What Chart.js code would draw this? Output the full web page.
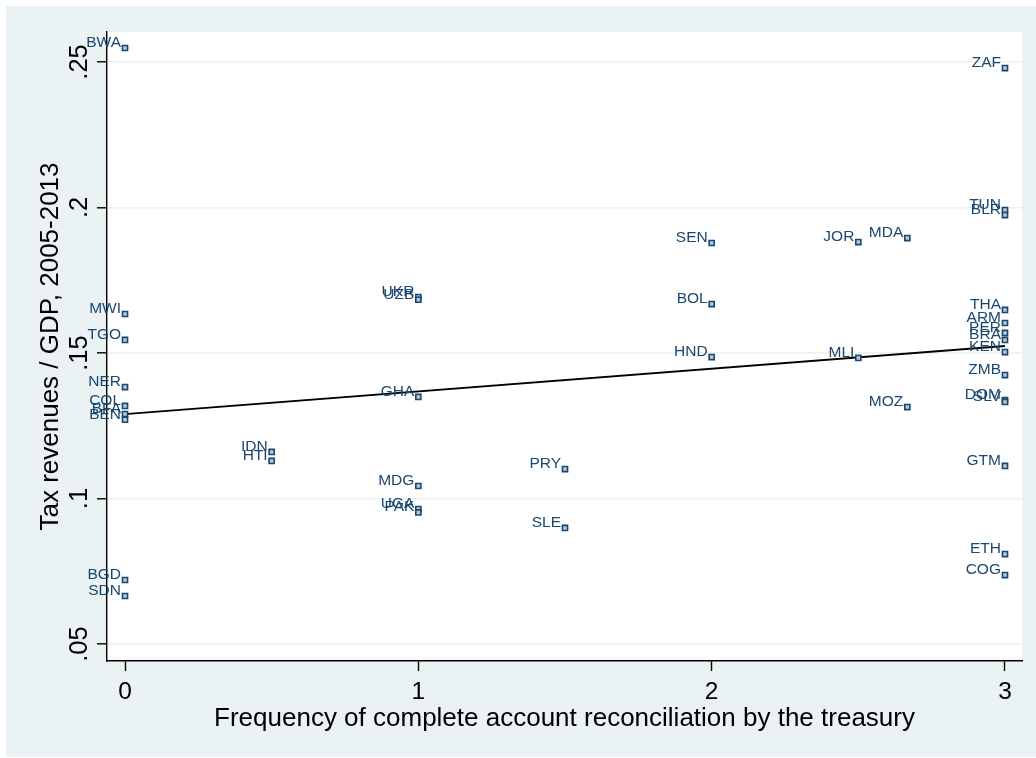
<!DOCTYPE html>
<html>
<head>
<meta charset="utf-8">
<script src="https://cdn.jsdelivr.net/npm/chart.js@4/dist/chart.umd.min.js"></script>
<style>
  html, body { margin: 0; padding: 0; background: #ffffff; }
  #c { display: block; }
</style>
</head>
<body>
<canvas id="c" width="1036" height="758"></canvas>
<script>
// Country codes, PEFA reconciliation frequency score and tax revenue / GDP
const codes = ['BWA','MWI','TGO','NER','COL','BFA','BEN','BGD','SDN',
  'IDN','HTI',
  'UKR','UZB','GHA','MDG','UGA','PAK',
  'PRY','SLE',
  'SEN','BOL','HND',
  'JOR','MLI',
  'MDA','MOZ',
  'ZAF','TUN','BLR','THA','ARM','PER','BRA','KEN','ZMB','DOM','SLV','GTM','ETH','COG'];
const reconFreq = [0,0,0,0,0,0,0,0,0,
  0.5,0.5,
  1,1,1,1,1,1,
  1.5,1.5,
  2,2,2,
  2.5,2.5,
  2.667,2.667,
  3,3,3,3,3,3,3,3,3,3,3,3,3,3];
const taxRatio = [0.2548,0.1634,0.1545,0.1383,0.1318,0.1290,0.1271,0.0720,0.0665,
  0.1160,0.1129,
  0.1692,0.1683,0.1349,0.1043,0.0964,0.0952,
  0.1101,0.0899,
  0.1878,0.1668,0.1486,
  0.1881,0.1483,
  0.1895,0.1314,
  0.2479,0.1991,0.1974,0.1648,0.1603,0.1569,0.1545,0.1503,0.1424,0.1338,0.1332,0.1112,0.0809,0.0737];

// Linear fit line endpoints
const fitX = [0, 3];
const fitY = [0.1290, 0.1524];

// Axis ticks
const xTicks = [0, 1, 2, 3];
const xTickLabels = ['0', '1', '2', '3'];
const yTicks = [0.05, 0.10, 0.15, 0.20, 0.25];
const yTickLabels = ['.05', '.1', '.15', '.2', '.25'];

const xTitle = 'Frequency of complete account reconciliation by the treasury';
const yTitle = 'Tax revenues / GDP, 2005-2013';

const FONT = "'Liberation Sans', Arial, Helvetica, sans-serif";
const NAVY = '#1a476f';
const PANEL = '#eaf2f3';

const stataLook = {
  id: 'stataLook',
  beforeDraw(chart) {
    const { ctx, chartArea: a, width, height } = chart;
    ctx.save();
    ctx.fillStyle = '#ffffff';
    ctx.fillRect(0, 0, width, height);
    ctx.fillStyle = PANEL;
    ctx.fillRect(6, 6, width - 6, height - 7);
    ctx.fillStyle = '#ffffff';
    ctx.fillRect(a.left, a.top, a.right - a.left, a.bottom - a.top);
    ctx.restore();
  },
  afterDatasetsDraw(chart) {
    const { ctx } = chart;
    const xs = chart.scales.x, ys = chart.scales.y;
    ctx.save();
    // marker labels, to the upper left of each marker
    ctx.fillStyle = NAVY;
    ctx.font = `15.5px ${FONT}`;
    ctx.textAlign = 'right';
    ctx.textBaseline = 'alphabetic';
    codes.forEach((c, i) => {
      const px = xs.getPixelForValue(reconFreq[i]);
      const py = ys.getPixelForValue(taxRatio[i]);
      ctx.fillText(c, px - 4, py - 1);
    });
    // x tick labels
    ctx.fillStyle = '#000';
    ctx.font = `24.5px ${FONT}`;
    ctx.textAlign = 'center';
    xTicks.forEach((v, i) => {
      ctx.fillText(xTickLabels[i], xs.getPixelForValue(v), 699);
    });
    // y tick labels, rotated
    ctx.font = `25.5px ${FONT}`;
    yTicks.forEach((v, i) => {
      ctx.save();
      ctx.translate(87, ys.getPixelForValue(v));
      ctx.rotate(-Math.PI / 2);
      ctx.textAlign = 'center';
      ctx.fillText(yTickLabels[i], 0, 0);
      ctx.restore();
    });
    // axis titles
    const a = chart.chartArea;
    ctx.font = `26px ${FONT}`;
    ctx.textAlign = 'center';
    ctx.fillText(xTitle, (a.left + a.right) / 2, 726);
    ctx.save();
    ctx.translate(58, (a.top + a.bottom) / 2);
    ctx.rotate(-Math.PI / 2);
    ctx.fillText(yTitle, 0, 0);
    ctx.restore();
    ctx.restore();
  }
};

new Chart(document.getElementById('c'), {
  type: 'scatter',
  data: {
    datasets: [
      {
        type: 'line',
        data: fitX.map((x, i) => ({ x, y: fitY[i] })),
        borderColor: '#000000',
        borderWidth: 1.9,
        pointRadius: 0,
        fill: false,
        order: 1
      },
      {
        data: codes.map((c, i) => ({ x: reconFreq[i], y: taxRatio[i] })),
        pointStyle: 'rect',
        pointRadius: 3.6,
        borderWidth: 1.6,
        borderColor: NAVY,
        backgroundColor: '#b9c8d6',
        order: 0
      }
    ]
  },
  options: {
    responsive: false,
    animation: false,
    devicePixelRatio: 1,
    layout: { padding: { left: 0, right: 14, top: 32, bottom: 0 } },
    plugins: { legend: { display: false }, tooltip: { enabled: false } },
    scales: {
      x: {
        type: 'linear',
        min: -0.0614,
        max: 3.058,
        afterBuildTicks: s => { s.ticks = xTicks.map(v => ({ value: v })); },
        afterFit: s => { s.height = 97; },
        ticks: { display: false },
        grid: { drawOnChartArea: false, drawTicks: true, tickLength: 10, tickColor: '#000', tickWidth: 1.4 },
        border: { display: true, color: '#000', width: 1.4 }
      },
      y: {
        type: 'linear',
        min: 0.04416,
        max: 0.2603,
        afterBuildTicks: s => { s.ticks = yTicks.map(v => ({ value: v })); },
        afterFit: s => { s.width = 107; },
        ticks: { display: false },
        grid: { color: PANEL, lineWidth: 1.6, drawTicks: true, tickLength: 10, tickColor: '#000', tickWidth: 1.4 },
        border: { display: true, color: '#000', width: 1.4 }
      }
    }
  },
  plugins: [stataLook]
});
</script>
</body>
</html>
